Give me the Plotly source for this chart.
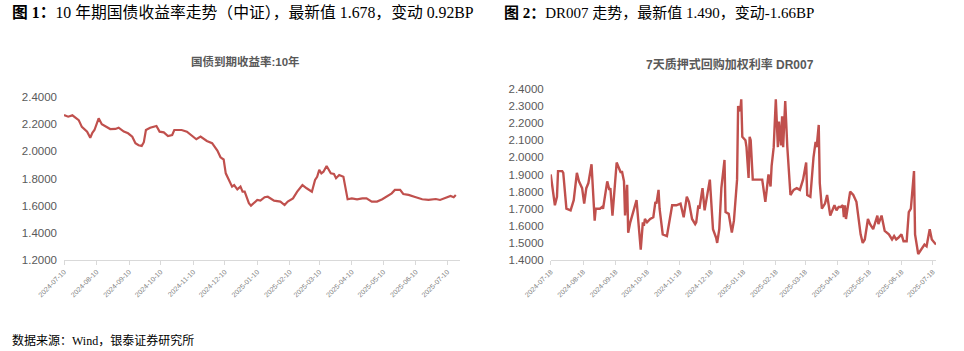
import plotly.graph_objects as go

# ---------------- Data: 10Y government bond yield ----------------
bond_dates = [
    "2024-07-10", "2024-07-14", "2024-07-18", "2024-07-24", "2024-07-27", "2024-08-01", "2024-08-04",
    "2024-08-06", "2024-08-08", "2024-08-12", "2024-08-15", "2024-08-20", "2024-08-23", "2024-08-28",
    "2024-08-31", "2024-09-05", "2024-09-09", "2024-09-13", "2024-09-16", "2024-09-19", "2024-09-22",
    "2024-09-24", "2024-09-26", "2024-09-30", "2024-10-06", "2024-10-09", "2024-10-13", "2024-10-17",
    "2024-10-21", "2024-10-23", "2024-10-30", "2024-11-04", "2024-11-09", "2024-11-13", "2024-11-17",
    "2024-11-23", "2024-11-28", "2024-12-03", "2024-12-06", "2024-12-09", "2024-12-11", "2024-12-15",
    "2024-12-17", "2024-12-19", "2024-12-22", "2024-12-25", "2024-12-27", "2024-12-29", "2025-01-02",
    "2025-01-04", "2025-01-07", "2025-01-10", "2025-01-13", "2025-01-17", "2025-01-20", "2025-01-23",
    "2025-01-26", "2025-02-01", "2025-02-05", "2025-02-08", "2025-02-13", "2025-02-17", "2025-02-22",
    "2025-02-26", "2025-03-03", "2025-03-06", "2025-03-08", "2025-03-10", "2025-03-12", "2025-03-14",
    "2025-03-17", "2025-03-21", "2025-03-24", "2025-03-26", "2025-03-29", "2025-04-02", "2025-04-04",
    "2025-04-06", "2025-04-10", "2025-04-15", "2025-04-20", "2025-04-24", "2025-04-29", "2025-05-04",
    "2025-05-09", "2025-05-14", "2025-05-18", "2025-05-21", "2025-05-26", "2025-05-29", "2025-06-03",
    "2025-06-10", "2025-06-16", "2025-06-22", "2025-06-29", "2025-07-03", "2025-07-08", "2025-07-13",
    "2025-07-16", "2025-07-18",
]
bond_values = [
    2.267, 2.255, 2.265, 2.230, 2.180, 2.145, 2.100,
    2.137, 2.157, 2.243, 2.199, 2.180, 2.164, 2.165,
    2.174, 2.145, 2.133, 2.108, 2.060, 2.045, 2.040,
    2.067, 2.157, 2.174, 2.187, 2.145, 2.140, 2.113,
    2.120, 2.157, 2.157, 2.145, 2.113, 2.089, 2.108,
    2.076, 2.060, 2.005, 1.956, 1.940, 1.838, 1.765,
    1.740, 1.752, 1.720, 1.740, 1.703, 1.703, 1.618,
    1.600, 1.618, 1.642, 1.637, 1.662, 1.666, 1.654,
    1.637, 1.630, 1.605, 1.630, 1.654, 1.703, 1.752,
    1.728, 1.703, 1.789, 1.813, 1.863, 1.838, 1.850,
    1.892, 1.838, 1.833, 1.802, 1.826, 1.813, 1.716,
    1.647, 1.654, 1.647, 1.654, 1.654, 1.630, 1.630,
    1.647, 1.671, 1.691, 1.716, 1.716, 1.686, 1.679,
    1.662, 1.647, 1.642, 1.649, 1.642, 1.654, 1.671,
    1.662, 1.678,
]
bond_tickvals = ["2024-07-10", "2024-08-10", "2024-09-10", "2024-10-10", "2024-11-10", "2024-12-10",
                 "2025-01-10", "2025-02-10", "2025-03-10", "2025-04-10", "2025-05-10", "2025-06-10",
                 "2025-07-10"]
bond_yticks = [1.2, 1.4, 1.6, 1.8, 2.0, 2.2, 2.4]

# ---------------- Data: DR007 ----------------
dr_dates = [
    "2024-07-18", "2024-07-22", "2024-07-24", "2024-07-25", "2024-07-29", "2024-07-30", "2024-08-02",
    "2024-08-06", "2024-08-09", "2024-08-12", "2024-08-14", "2024-08-17", "2024-08-19", "2024-08-21",
    "2024-08-23", "2024-08-26", "2024-08-29", "2024-08-30", "2024-09-03", "2024-09-05", "2024-09-06",
    "2024-09-10", "2024-09-12", "2024-09-13", "2024-09-15", "2024-09-19", "2024-09-23", "2024-09-24",
    "2024-09-26", "2024-09-27", "2024-09-29", "2024-09-30", "2024-10-02", "2024-10-08", "2024-10-12",
    "2024-10-14", "2024-10-15", "2024-10-16", "2024-10-18", "2024-10-21", "2024-10-24", "2024-10-26",
    "2024-10-27", "2024-10-29", "2024-10-30", "2024-11-02", "2024-11-06", "2024-11-08", "2024-11-11",
    "2024-11-15", "2024-11-19", "2024-11-22", "2024-11-25", "2024-11-27", "2024-11-30", "2024-12-03",
    "2024-12-04", "2024-12-06", "2024-12-07", "2024-12-10", "2024-12-12", "2024-12-17", "2024-12-20",
    "2024-12-23", "2024-12-24", "2024-12-26", "2024-12-28", "2024-12-31", "2025-01-01", "2025-01-04",
    "2025-01-07", "2025-01-09", "2025-01-12", "2025-01-13", "2025-01-15", "2025-01-16", "2025-01-17",
    "2025-01-20", "2025-01-21", "2025-01-23", "2025-01-24", "2025-01-25", "2025-01-27", "2025-02-05",
    "2025-02-08", "2025-02-11", "2025-02-13", "2025-02-14", "2025-02-16", "2025-02-18", "2025-02-20",
    "2025-02-21", "2025-02-23", "2025-02-24", "2025-02-25", "2025-02-27", "2025-03-01", "2025-03-04",
    "2025-03-07", "2025-03-10", "2025-03-13", "2025-03-16", "2025-03-19", "2025-03-20", "2025-03-23",
    "2025-03-26", "2025-03-28", "2025-03-29", "2025-03-31", "2025-04-01", "2025-04-03", "2025-04-06",
    "2025-04-08", "2025-04-11", "2025-04-13", "2025-04-15", "2025-04-17", "2025-04-19", "2025-04-21",
    "2025-04-23", "2025-04-24", "2025-04-25", "2025-04-26", "2025-04-30", "2025-05-03", "2025-05-06",
    "2025-05-10", "2025-05-12", "2025-05-14", "2025-05-17", "2025-05-19", "2025-05-22", "2025-05-26",
    "2025-05-27", "2025-05-30", "2025-06-02", "2025-06-06", "2025-06-09", "2025-06-11", "2025-06-13",
    "2025-06-15", "2025-06-18", "2025-06-20", "2025-06-23", "2025-06-25", "2025-06-27", "2025-06-30",
    "2025-07-01", "2025-07-04", "2025-07-07", "2025-07-10", "2025-07-12", "2025-07-15", "2025-07-17",
    "2025-07-21",
]
dr_values = [
    1.90, 1.72, 1.77, 1.92, 1.92, 1.91, 1.70,
    1.69, 1.75, 1.91, 1.86, 1.82, 1.73, 1.82,
    1.85, 1.96, 1.63, 1.70, 1.70, 1.71, 1.70,
    1.86, 1.81, 1.82, 1.66, 1.97, 1.91, 1.92,
    1.86, 1.66, 1.84, 1.56, 1.62, 1.75, 1.46,
    1.62, 1.60, 1.64, 1.62, 1.64, 1.65, 1.74,
    1.73, 1.81, 1.70, 1.55, 1.54, 1.62, 1.72,
    1.72, 1.73, 1.65, 1.77, 1.74, 1.64, 1.61,
    1.62, 1.72, 1.70, 1.82, 1.69, 1.87, 1.58,
    1.53, 1.50, 1.58, 1.82, 1.985, 1.68, 1.67,
    1.56, 1.63, 1.87, 2.30, 2.27, 2.34, 2.12,
    2.10, 2.06, 1.88, 2.12, 2.10, 1.87, 1.87,
    1.74, 1.90, 1.83, 1.95, 2.06, 2.34, 2.06,
    2.21, 2.07, 2.24, 2.06, 2.33, 2.06, 1.78,
    1.81, 1.82, 1.81, 1.87, 1.97, 1.78, 1.77,
    2.00, 2.09, 2.06, 2.19, 1.85, 1.70, 1.73,
    1.78, 1.66, 1.69, 1.72, 1.69, 1.71, 1.71,
    1.72, 1.65, 1.72, 1.64, 1.80, 1.78, 1.74,
    1.55, 1.50, 1.52, 1.64, 1.61, 1.58, 1.66,
    1.61, 1.66, 1.57, 1.55, 1.52, 1.54, 1.52,
    1.53, 1.55, 1.51, 1.51, 1.68, 1.70, 1.92,
    1.55, 1.435, 1.46, 1.49, 1.48, 1.58, 1.52,
    1.49,
]
dr_tickvals = ["2024-07-18", "2024-08-18", "2024-09-18", "2024-10-18", "2024-11-18", "2024-12-18",
               "2025-01-18", "2025-02-18", "2025-03-18", "2025-04-18", "2025-05-18", "2025-06-18",
               "2025-07-18"]
dr_yticks = [1.4, 1.5, 1.6, 1.7, 1.8, 1.9, 2.0, 2.1, 2.2, 2.3, 2.4]

header1 = "<b>图 1：</b>10 年期国债收益率走势（中证），最新值 1.678，变动 0.92BP"
header2 = "<b>图 2：</b>DR007 走势，最新值 1.490，变动-1.66BP"
title1 = "<b>国债到期收益率:10年</b>"
title2 = "<b>7天质押式回购加权利率 DR007</b>"
source = "数据来源：Wind，银泰证券研究所"

W, H = 964, 351
LINE = "#C0504D"
AXIS = "#D9D9D9"
TICKC = "#595959"
SANS = "Liberation Sans, Noto Sans CJK SC, sans-serif"
SERIF = "Liberation Serif, Noto Sans CJK SC, serif"

fig = go.Figure()
fig.add_trace(go.Scatter(x=bond_dates, y=bond_values, mode="lines",
                         line=dict(color=LINE, width=2.2), xaxis="x", yaxis="y",
                         hoverinfo="x+y", showlegend=False))
fig.add_trace(go.Scatter(x=dr_dates, y=dr_values, mode="lines",
                         line=dict(color=LINE, width=2.4), xaxis="x2", yaxis="y2",
                         hoverinfo="x+y", showlegend=False))

def xaxis_cfg(domain, rng, tickvals, anchor):
    return dict(domain=domain, type="date", range=rng, tickvals=tickvals, anchor=anchor,
                tickformat="%Y-%m-%d", tickangle=-45, showgrid=False, zeroline=False,
                showline=True, linecolor=AXIS, linewidth=1, ticks="outside", ticklen=4,
                tickcolor=AXIS, automargin=False,
                tickfont=dict(family=SANS, size=7, color="#7F7F7F"))

def yaxis_cfg(domain, rng, tickvals, anchor):
    return dict(domain=domain, range=rng, tickvals=tickvals, tickformat=".4f", anchor=anchor,
                showgrid=False, zeroline=False, showline=False, ticks="",
                ticklabelstandoff=6, automargin=False,
                tickfont=dict(family=SANS, size=11.5, color=TICKC))

fig.update_layout(
    width=W, height=H, autosize=False,
    margin=dict(l=0, r=0, t=0, b=0, autoexpand=False),
    paper_bgcolor="white", plot_bgcolor="white",
    xaxis=xaxis_cfg([64 / W, 460 / W], ["2024-07-10", "2025-07-22"], bond_tickvals, "y"),
    yaxis=yaxis_cfg([1 - 260 / H, 1 - 97 / H], [1.2, 2.4], bond_yticks, "x"),
    xaxis2=xaxis_cfg([550.7 / W, 936 / W], ["2024-07-18", "2025-07-21"], dr_tickvals, "y2"),
    yaxis2=yaxis_cfg([1 - 260 / H, 1 - 89 / H], [1.4, 2.4], dr_yticks, "x2"),
    showlegend=False,
)

annots = [
    dict(text=header1, x=10 / W, y=1 - 13 / H, xanchor="left", yanchor="middle",
         font=dict(family=SERIF, size=15.8, color="#000000")),
    dict(text=header2, x=502 / W, y=1 - 13 / H, xanchor="left", yanchor="middle",
         font=dict(family=SERIF, size=15, color="#000000")),
    dict(text=title1, x=245 / W, y=1 - 62 / H, xanchor="center", yanchor="middle",
         font=dict(family=SANS, size=11.5, color="#595959")),
    dict(text=title2, x=730 / W, y=1 - 65 / H, xanchor="center", yanchor="middle",
         font=dict(family=SANS, size=12, color="#595959")),
    dict(text=source, x=10 / W, y=1 - 340 / H, xanchor="left", yanchor="middle",
         font=dict(family=SERIF, size=12, color="#000000")),
]
for a in annots:
    a.update(xref="paper", yref="paper", showarrow=False)
fig.update_layout(annotations=annots)

fig.write_html("out.html")
